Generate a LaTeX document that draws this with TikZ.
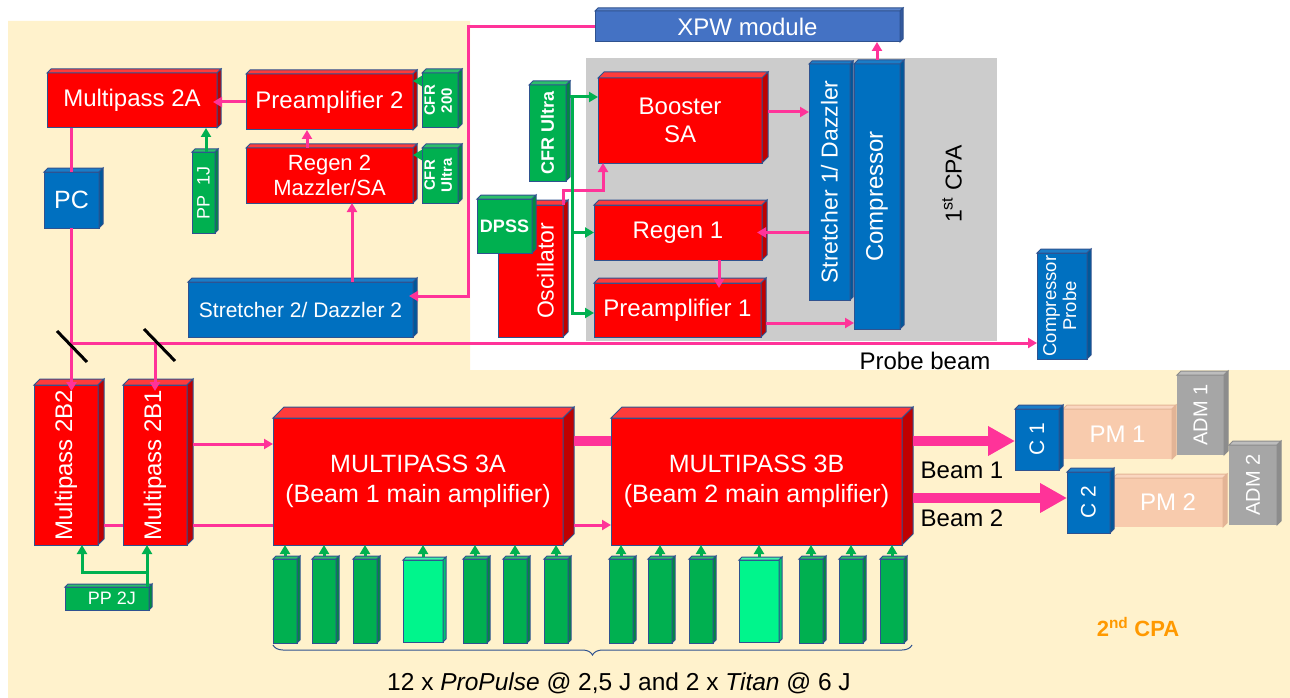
\documentclass[tikz,border=0pt]{standalone}
\usepackage{fontspec}
\setmainfont{Liberation Sans}
\usepackage{graphicx}
\usetikzlibrary{arrows.meta,decorations.pathreplacing}

\definecolor{cream}{HTML}{FFF2CC}
\definecolor{cpagray}{HTML}{CCCCCC}
\definecolor{edge}{HTML}{2F528F}
\definecolor{ampred}{HTML}{FF0000}
\definecolor{redtop}{HTML}{FF3B3B}
\definecolor{redside}{HTML}{C00000}
\definecolor{optblue}{HTML}{0070C0}
\definecolor{bluetop}{HTML}{1A7DC8}
\definecolor{blueside}{HTML}{00589A}
\definecolor{xpwblue}{HTML}{4472C4}
\definecolor{xpwtop}{HTML}{5B84CC}
\definecolor{xpwside}{HTML}{33599E}
\definecolor{pumpgreen}{HTML}{00B050}
\definecolor{greentop}{HTML}{2DBF6A}
\definecolor{greenside}{HTML}{008A3E}
\definecolor{titangreen}{HTML}{00F58C}
\definecolor{titantop}{HTML}{40F7A8}
\definecolor{titanside}{HTML}{00C470}
\definecolor{beampink}{HTML}{FF3399}
\definecolor{pmpeach}{HTML}{F8CBAD}
\definecolor{pmtop}{HTML}{FAD7C0}
\definecolor{pmside}{HTML}{E3B496}
\definecolor{admgray}{HTML}{A6A6A6}
\definecolor{admtop}{HTML}{BDBDBD}
\definecolor{admside}{HTML}{8C8C8C}
\definecolor{cpaorange}{HTML}{FF9900}

% top and right faces of a box node: [edge]{node}{depth}{top}{side}
\newcommand\faces[5][edge]{%
  \filldraw[draw=#1,fill=#4,line width=1pt] (#2.north west) -- ++(#3,-#3) -- ([shift={(#3,-#3)}]#2.north east) -- (#2.north east) -- cycle;
  \filldraw[draw=#1,fill=#5,line width=1pt] (#2.north east) -- ++(#3,-#3) -- ([shift={(#3,-#3)}]#2.south east) -- (#2.south east) -- cycle;
}
\newcommand\vtext[1]{\rotatebox{90}{\begin{tabular}{@{}c@{}}#1\end{tabular}}}

\tikzset{
  wh/.style 2 args={minimum width=#1pt,minimum height=#2pt},
  box/.style={draw=edge,line width=1pt,inner sep=0pt,outer sep=0pt,text=white,align=center,font=\fontsize{24}{28}\selectfont},
  amp/.style={box,fill=ampred},
  optic/.style={box,fill=optblue},
  pump/.style={box,fill=pumpgreen},
  pumpcol/.style={box,fill=pumpgreen,wh={24}{84}},
  titancol/.style={box,fill=titangreen,wh={40}{82}},
  beam/.style={draw=beampink,line width=3pt,-{Triangle[length=9pt,width=10pt]}},
  feed/.style={draw=pumpgreen,line width=3pt,-{Triangle[length=9pt,width=10pt]}},
  bigbeam/.style={draw=beampink,line width=10pt,-{Triangle[length=27pt,width=28pt]}},
  mirror/.style={line width=3pt,black},
  caption/.style={text=black,font=\fontsize{24}{28}\selectfont}
}

\begin{document}
\begin{tikzpicture}[x=1pt,y=-1pt]
  % background areas
  \fill[white] (0,0) rectangle (1290,698);
  \fill[cream] (8,21) -- (470,21) -- (470,370) -- (1290,370) -- (1290,698) -- (8,698) -- cycle;
  \fill[cpagray] (586,58) rectangle (997,341);

  % second CPA, front end
  \node[amp,wh={170}{55}] (mpA) at (132,100.5) {Multipass 2A};
  \faces{mpA}{4}{redtop}{redside}
  \node[amp,wh={167}{56}] (pre2) at (329.5,102) {Preamplifier 2};
  \faces{pre2}{4}{redtop}{redside}
  \node[pump,wh={36}{55},font=\bfseries\fontsize{15}{17}\selectfont] (cfr2) at (440,100.5) {\vtext{CFR\\200}};
  \faces{cfr2}{4}{greentop}{greenside}
  \node[amp,wh={167}{55},font=\fontsize{22}{25}\selectfont] (regen2) at (329.5,175.5) {Regen 2\\Mazzler/SA};
  \faces{regen2}{4}{redtop}{redside}
  \node[pump,wh={36}{55},font=\bfseries\fontsize{15}{17}\selectfont] (cfr3) at (440,175.5) {\vtext{CFR\\Ultra}};
  \faces{cfr3}{4}{greentop}{greenside}
  \node[pump,wh={23}{81},font=\fontsize{18}{20}\selectfont] (pp1) at (203.5,192.5) {\rotatebox{90}{PP\ \ 1J}};
  \faces{pp1}{3}{greentop}{greenside}
  \node[optic,wh={55}{56},font=\fontsize{25}{28}\selectfont] (pc) at (71.5,200) {PC};
  \faces{pc}{4}{bluetop}{blueside}
  \node[optic,wh={225}{55},font=\fontsize{21}{24}\selectfont] (str2) at (300.5,309.5) {Stretcher 2/ Dazzler 2};
  \faces{str2}{4}{bluetop}{blueside}

  % first CPA
  \node[box,fill=xpwblue,wh={305}{31}] (xpw) at (747.5,26.5) {XPW module};
  \faces{xpw}{3}{xpwtop}{xpwside}
  \node[amp,wh={164}{85}] (booster) at (680,120.5) {Booster\\SA};
  \faces{booster}{6}{redtop}{redside}
  \node[amp,wh={168}{55}] (regen1) at (678,232.5) {Regen 1};
  \faces{regen1}{5}{redtop}{redside}
  \node[amp,wh={167}{54}] (pre1) at (677.5,310) {Preamplifier 1};
  \faces{pre1}{5}{redtop}{redside}
  \node[optic,wh={41}{236},font=\fontsize{23}{26}\selectfont] (str1) at (829.5,182) {\rotatebox{90}{Stretcher 1/ Dazzler}};
  \faces{str1}{3}{bluetop}{blueside}
  \node[optic,wh={46}{265}] (comp) at (877,196.5) {\rotatebox{90}{Compressor}};
  \faces{comp}{4}{bluetop}{blueside}
  \node[pump,wh={37}{96},font=\bfseries\fontsize{18}{20}\selectfont] (cfr1) at (547.5,133) {\rotatebox{90}{CFR Ultra}};
  \faces{cfr1}{4}{greentop}{greenside}
  \node[amp,wh={65}{132},font=\fontsize{23}{24}\selectfont] (osc) at (530.5,271) {\hspace*{30pt}\rotatebox{90}{Oscillator}};
  \faces{osc}{5}{redtop}{redside}
  \node[pump,wh={55}{54},font=\bfseries\fontsize{18}{20}\selectfont] (dpss) at (504.5,226) {DPSS};
  \faces{dpss}{4}{greentop}{greenside}
  \node[optic,wh={50}{106},font=\fontsize{18.5}{20}\selectfont] (cprobe) at (1062,306) {\vtext{Compressor\\Probe}};
  \faces{cprobe}{4}{bluetop}{blueside}
  \node[rotate=90,caption,font=\fontsize{23}{26}\selectfont] (cpa1) at (952,184) {1\textsuperscript{st}\ CPA};
  \node[caption] (probetext) at (925,361) {Probe beam};

  % second CPA, power amplifiers
  \node[amp,wh={64}{160}] (mp2b2) at (66,465) {\rotatebox{90}{Multipass 2B2}};
  \faces{mp2b2}{6}{redtop}{redside}
  \node[amp,wh={64}{160}] (mp2b1) at (155,465) {\rotatebox{90}{Multipass 2B1}};
  \faces{mp2b1}{6}{redtop}{redside}
  \node[pump,wh={84}{23},font=\fontsize{18}{20}\selectfont] (pp2) at (107,598.5) {\hspace*{10pt}PP 2J};
  \faces{pp2}{3}{greentop}{greenside}
  \node[amp,wh={290}{127},font=\fontsize{25}{30}\selectfont] (mp3a) at (418,481.5) {MULTIPASS 3A\\(Beam 1 main amplifier)};
  \faces{mp3a}{11}{redtop}{redside}
  \node[amp,wh={291}{127},font=\fontsize{25}{30}\selectfont] (mp3b) at (756.5,481.5) {MULTIPASS 3B\\(Beam 2 main amplifier)};
  \faces{mp3b}{11}{redtop}{redside}

  % pump lasers
  \foreach \x/\kind/\ftop/\fside [count=\i] in {285/pumpcol/greentop/greenside,324/pumpcol/greentop/greenside,365/pumpcol/greentop/greenside,423/titancol/titantop/titanside,475/pumpcol/greentop/greenside,515/pumpcol/greentop/greenside,556/pumpcol/greentop/greenside}{
    \node[\kind] (pa\i) at (\x,601) {};
    \faces{pa\i}{3}{\ftop}{\fside}
    \draw[feed,shorten <=3pt] (pa\i.north) -- (pa\i.north |- mp3a.south);
    \node[\kind] (pb\i) at (\x+336,601) {};
    \faces{pb\i}{3}{\ftop}{\fside}
    \draw[feed,shorten <=3pt] (pb\i.north) -- (pb\i.north |- mp3b.south);
  }
  \draw[edge,line width=1pt,decorate,decoration={brace,amplitude=10pt,mirror}] ([yshift=-2pt]pa1.south west) -- ([xshift=8pt,yshift=-2pt]pb7.south east);
  \node[caption,font=\fontsize{24.5}{28}\selectfont] (pumptext) at (619,683) {12 x \textit{ProPulse} @ 2,5 J and 2 x \textit{Titan} @ 6 J};

  % compressors and diagnostics
  \node[box,fill=admgray,draw=none,wh={47}{80},font=\fontsize{20}{22}\selectfont] (adm1) at (1200.5,415) {\rotatebox{90}{ADM 1}};
  \faces[admside]{adm1}{4}{admtop}{admside}
  \node[box,fill=pmpeach,draw=none,wh={109}{50}] (pm1) at (1117.5,434) {PM 1};
  \faces[pmside]{pm1}{4}{pmtop}{pmside}
  \node[optic,wh={44}{61},font=\fontsize{21}{24}\selectfont] (c1) at (1037,439.5) {\rotatebox{90}{C 1}};
  \faces{c1}{4}{bluetop}{blueside}
  \node[box,fill=admgray,draw=none,wh={48}{80},font=\fontsize{20}{22}\selectfont] (adm2) at (1253,485) {\rotatebox{90}{ADM 2}};
  \faces[admside]{adm2}{4}{admtop}{admside}
  \node[box,fill=pmpeach,draw=none,wh={110}{49}] (pm2) at (1168,502.5) {PM 2};
  \faces[pmside]{pm2}{4}{pmtop}{pmside}
  \node[optic,wh={43}{61},font=\fontsize{21}{24}\selectfont] (c2) at (1088.5,502.5) {\rotatebox{90}{C 2}};
  \faces{c2}{4}{bluetop}{blueside}
  \node[caption] (beam1text) at (962,470) {Beam 1};
  \node[caption] (beam2text) at (962,518) {Beam 2};
  \node[text=cpaorange,font=\bfseries\fontsize{22}{24}\selectfont] (cpa2) at (1138,627) {2\textsuperscript{nd} CPA};

  % beam path, front end
  \draw[beam,shorten >=-4pt] (pre2.west) -- (pre2.west -| mpA.east);
  \draw[beam] ([xshift=-22.5pt]regen2.north) -- ([xshift=-22.5pt]pre2.south);
  \draw[beam] ([xshift=51.5pt]str2.north) -- ([xshift=22.5pt]regen2.south);
  \draw[beam,shorten >=-4pt] (xpw.west) -- ++(-126.5,0) |- ([yshift=13.5pt]str2.east);
  \draw[beam,-] (pc.north |- mpA.south) -- (pc.north);
  \draw[beam,shorten >=-6pt] (pc.south) -- (pc.south |- mp2b2.north);
  \coordinate (tap) at (71.5,343);
  \draw[beam] (tap) -- (tap -| cprobe.west);
  \draw[beam,shorten >=-6pt] (tap -| mp2b1.north) -- (mp2b1.north);
  \draw[mirror] (57,331) -- (87,362);
  \draw[mirror] (144,329) -- (175,361);

  % beam path, first CPA
  \draw[beam,shorten <=6pt] ([yshift=8.5pt]booster.east) -- ([yshift=70pt]str1.west);
  \draw[beam,shorten >=-5pt] ([yshift=-50.5pt]str1.west) -- (regen1.east);
  \draw[beam,shorten >=-5pt] ([xshift=41pt]regen1.south) -- ([xshift=41.5pt]pre1.north);
  \draw[beam,shorten <=5pt] ([yshift=-13pt]pre1.east) -- ([yshift=-126.5pt]comp.west);
  \draw[beam,shorten <=4pt] (comp.north) -- (comp.north |- xpw.south);
  \draw[beam] (osc.north east) -- ++(0,-15) -| ([xshift=-77pt]booster.south);

  % pumping, front end and first CPA
  \draw[feed] ([yshift=19.5pt]cfr2.west) -- ([yshift=21pt]pre2.east);
  \draw[feed] ([yshift=20.5pt]cfr3.west) -- ([yshift=20.5pt]regen2.east);
  \draw[feed] ([xshift=2.5pt]pp1.north) -- ([xshift=74pt]mpA.south);
  \coordinate (bus) at ([xshift=6pt,yshift=36pt]cfr1.east);
  \draw[feed,shorten <=4pt] ([yshift=36pt]cfr1.east) -- ([yshift=23.5pt]booster.west);
  \draw[feed] (bus) |- (regen1.west);
  \draw[feed] (bus) |- ([yshift=-3pt]pre1.west);
  \draw[feed] ([xshift=-2pt]pp2.north east) -- ([xshift=-8pt]mp2b1.south);
  \draw[feed] ([xshift=-2pt,yshift=15pt]pp2.north east) -| ([xshift=16pt]mp2b2.south);

  % beam path, power amplifiers
  \draw[beam,shorten <=6pt] ([yshift=21pt]mp2b1.east) -- ([yshift=37.5pt]mp3a.west);
  \draw[beam,-,shorten <=6pt] ([yshift=-60pt]mp2b2.east) -- ([yshift=-60pt]mp2b1.west);
  \draw[beam,-,shorten <=6pt] ([yshift=-60pt]mp2b1.east) -- ([yshift=-43.5pt]mp3a.west);
  \draw[beam,shorten <=11pt] ([yshift=-43.5pt]mp3a.east) -- ([yshift=-43.5pt]mp3b.west);
  \draw[bigbeam,-,shorten <=11pt] ([yshift=40.5pt]mp3a.east) -- ([yshift=40.5pt]mp3b.west);
  \draw[bigbeam,shorten <=11pt] ([yshift=40.5pt]mp3b.east) -- ([yshift=-1.5pt]c1.west);
  \draw[bigbeam,shorten <=11pt] ([yshift=-16.5pt]mp3b.east) -- ([yshift=4.5pt]c2.west);
\end{tikzpicture}
\end{document}
